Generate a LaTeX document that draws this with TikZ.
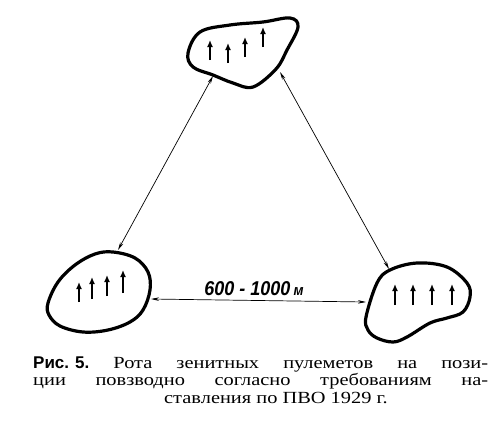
\documentclass[tikz,border=0pt]{standalone}
\usepackage{fontspec}
\setmainfont{Liberation Serif}[FakeStretch=1.2]
\setsansfont{Liberation Sans}
\newfontfamily\labelfont{Liberation Sans}[FakeStretch=0.9]
\usetikzlibrary{arrows.meta}
\frenchspacing
\begin{document}
\begin{tikzpicture}[x=1pt,y=-1pt,
  blob/.style={line width=3.2pt,line join=round},
  gun/.style={line width=1.8pt,-{Latex[length=7pt,width=6pt]}},
  link/.style={line width=0.7pt,{Stealth[length=8pt,width=3.5pt]}-{Stealth[length=8pt,width=3.5pt]}},
  capline/.style={inner sep=0pt,anchor=base west,font=\fontsize{17}{17}\selectfont},
  every node/.style={inner sep=0pt}]
\useasboundingbox (0,0) rectangle (500,442);
% blobs
\draw[blob] plot[smooth cycle,tension=0.6] coordinates {(188,53) (200,32) (230,25) (263,22) (290,18) (298,27) (287,50) (276,69) (253,87) (233,83) (213,75) (193,67)};
\draw[blob] plot[smooth cycle,tension=0.6] coordinates {(48,303) (58,282) (75,265) (95,254) (113,252) (135,258) (148,272) (150,290) (143,310) (130,322) (108,330) (83,332) (60,326) (49,315)};
\draw[blob] plot[smooth cycle,tension=0.6] coordinates {(366,317) (377,283) (390,270) (417,263) (447,267) (467,283) (470,297) (463,312) (447,318) (430,323) (407,337) (393,342) (377,338) (368,330)};
% guns
\foreach \x/\a/\b in {210/60/40, 228/63/43, 245/57/37, 263/47/27} \draw[gun] (\x,\a) -- (\x,\b);
\foreach \x/\a/\b in {79/302/282, 92/299/277, 107/296/275, 123/293/270} \draw[gun] (\x,\a) -- (\x,\b);
\foreach \x in {395,413,432,452} \draw[gun] (\x,305) -- (\x,284);
% connector ends
\coordinate (tl) at (213,76);
\coordinate (tr) at (280,72);
\coordinate (lt) at (118,250);
\coordinate (lr) at (151,299);
\coordinate (rt) at (389,269);
\coordinate (rl) at (366,302);
\draw[link] (tl) -- (lt);
\draw[link] (tr) -- (rt);
\draw[link] (lr) -- (rl);
\node (dist) at (254,289) {\labelfont\bfseries\itshape\fontsize{20}{20}\selectfont 600 - 1000\,{\fontsize{15}{15}\selectfont м}};
% caption
\node[capline] (c1) at (33,368) {\makebox[455pt][s]{{\sffamily\bfseries Рис.\hspace{6pt}5.} Рота зенитных пулеметов на пози-}};
\node[capline] (c2) at (33,385) {\makebox[455pt][s]{ции повзводно согласно требованиям на-}};
\node[capline,anchor=base] (c3) at (276,403) {ставления по ПВО 1929 г.};
\end{tikzpicture}
\end{document}
